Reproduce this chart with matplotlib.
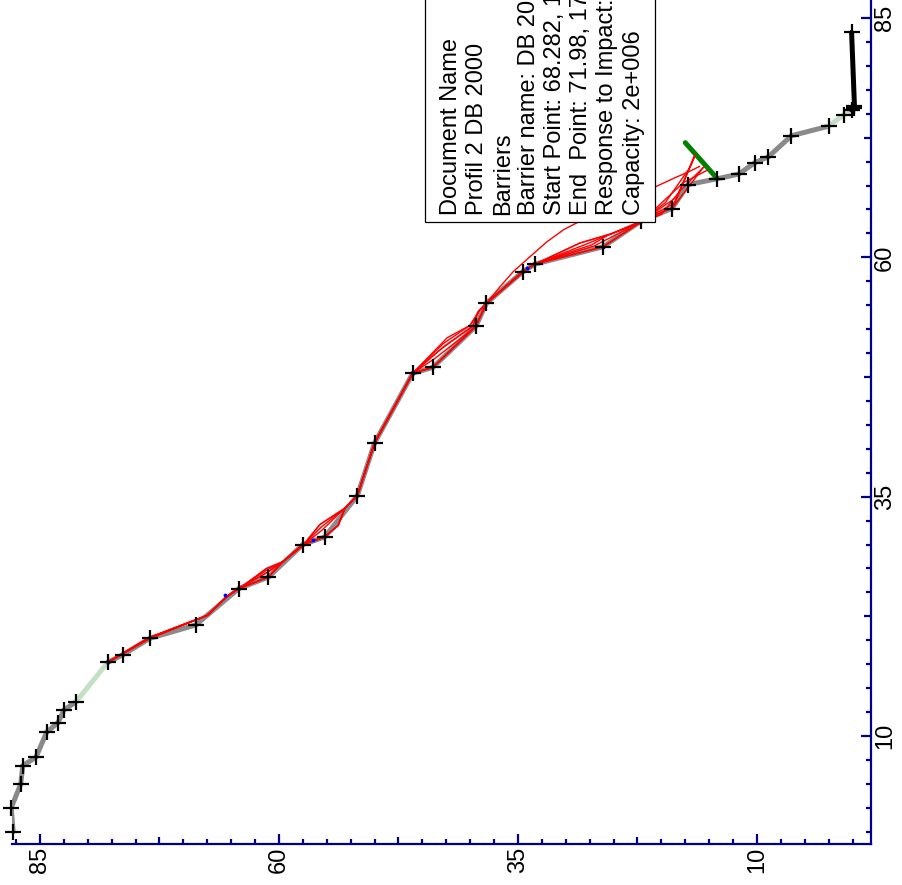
import matplotlib
matplotlib.use('Agg')
import matplotlib.pyplot as plt
from matplotlib.patches import Rectangle
from matplotlib.ticker import MultipleLocator

plt.rcParams['font.family'] = ['Liberation Sans', 'DejaVu Sans']

# Hangprofil: horizontale Distanz (m) und Hoehe (m) der Knoten
profil_dist = [0.0, 2.5, 5.0, 6.9, 7.8, 10.4, 11.4, 12.7, 13.6, 17.7, 18.5, 20.2, 21.6,
               25.4, 26.6, 30.0, 30.8, 35.1, 40.6, 47.9, 48.5, 52.8, 55.2, 58.5, 59.3,
               61.1, 63.8, 65.1, 67.6, 68.2, 68.7, 69.9, 70.5, 72.7, 73.7, 74.9, 75.4,
               75.6, 75.8, 83.5]
profil_elev = [87.8, 88.0, 87.0, 86.8, 85.4, 84.3, 83.1, 82.5, 81.2, 77.9, 76.3, 73.5, 68.7,
               64.2, 61.1, 57.5, 55.2, 51.8, 50.0, 46.0, 43.9, 39.4, 38.3, 34.5, 33.2,
               26.1, 22.1, 18.9, 17.2, 14.2, 11.9, 10.2, 8.8, 6.4, 2.5, 0.9, 0.1,
               -0.2, -0.2, 0.1]
# Material je Segment
materiale = ['fels'] * 8 + ['wiese'] + ['fels'] * 25 + ['wiese'] * 2 + ['strasse'] * 3
farben = {'fels': '#8a8a8a', 'wiese': '#c4e0c4', 'strasse': '#000000'}

# Barriere DB 2000
barrier_dist = [68.282, 71.98]
barrier_elev = [14.2, 17.5]

# Startpunkte (blaue Punkte)
start_dist = [17.7, 24.7, 30.5, 47.9, 58.9, 61.1]
start_elev = [77.9, 65.6, 56.4, 46.0, 34.0, 26.1]

# Sturzbahnen
traj1_d = [17.7, 20.3, 22.6, 24.6, 25.8, 27.5, 28.2, 29.9, 32.1, 33.8, 35.1, 40.6, 47.9,
           51.6, 52.9, 54.5, 55.2, 58.5, 59.3, 61.5, 62.5, 63.8, 66.3, 70.6]
traj1_e = [77.9, 73.5, 67.5, 65.4, 63.6, 61.3, 59.6, 57.5, 55.7, 53.1, 51.8, 50.0, 46.0,
           42.4, 40.0, 39.0, 38.3, 34.5, 33.2, 28.5, 25.1, 22.0, 18.4, 16.5]
traj2_d = [17.7, 20.2, 22.6, 24.6, 25.4, 26.6, 28.2, 30.0, 30.8, 32.0, 33.8, 35.1, 40.6,
           47.9, 48.5, 52.8, 55.2, 58.5, 59.3, 61.1, 63.8, 65.2, 67.8, 70.7]
traj2_e = [77.9, 73.5, 67.5, 65.4, 64.2, 61.1, 59.6, 57.5, 55.2, 53.8, 53.1, 51.8, 50.0,
           46.0, 43.9, 39.4, 38.3, 34.5, 33.2, 26.1, 22.0, 18.8, 17.7, 16.5]
traj3_d = [17.7, 20.3, 22.6, 24.6, 25.6, 27.1, 28.2, 29.9, 31.5, 33.8, 35.1, 40.6, 47.9,
           50.3, 52.8, 54.5, 55.2, 58.3, 59.3, 61.3, 62.3, 63.6, 65.7, 69.4, 70.6]
traj3_e = [77.9, 73.5, 67.5, 65.4, 63.9, 61.2, 59.6, 57.5, 55.5, 53.1, 51.8, 50.0, 46.0,
           43.2, 39.8, 39.0, 38.3, 34.6, 33.3, 27.3, 25.6, 22.3, 19.6, 17.0, 16.5]
traj4_d = [17.7, 20.3, 22.6, 24.6, 25.7, 27.3, 28.2, 29.9, 31.8, 33.8, 35.1, 40.6, 47.9,
           50.8, 52.8, 54.3, 55.2, 58.5, 59.3, 61.2, 63.0, 64.5, 67.0, 69.4]
traj4_e = [77.9, 73.5, 67.5, 65.4, 63.8, 61.3, 59.6, 57.5, 55.6, 53.1, 51.8, 50.0, 46.0,
           42.6, 39.7, 39.2, 38.3, 34.5, 33.2, 27.0, 23.5, 20.0, 18.0, 15.6]
traj5_d = [17.7, 20.2, 22.6, 24.6, 25.4, 26.6, 28.2, 30.0, 30.8, 32.0, 33.8, 35.1, 40.6,
           47.9, 49.5, 52.8, 55.2, 58.5, 59.3, 61.1, 63.8, 65.2, 69.4]
traj5_e = [77.9, 73.5, 67.5, 65.4, 64.2, 61.1, 59.6, 57.5, 55.2, 53.8, 53.1, 51.8, 50.0,
           46.0, 43.6, 39.4, 38.3, 34.5, 33.2, 26.1, 22.0, 18.8, 15.6]
traj6_d = [17.7, 20.3, 22.6, 24.6, 25.8, 27.5, 28.2, 29.9, 32.1, 33.8, 35.1, 40.6, 47.9,
           48.5, 52.8, 55.2, 58.5, 59.3, 61.4, 62.4, 63.8, 67.8, 69.1]
traj6_e = [77.9, 73.5, 67.5, 65.4, 63.6, 61.3, 59.6, 57.5, 55.7, 53.1, 51.8, 50.0, 46.0,
           43.9, 39.4, 38.3, 34.5, 33.2, 27.8, 25.4, 22.0, 17.7, 15.2]
traj7_d = [17.7, 20.3, 22.6, 24.6, 25.6, 27.1, 28.2, 30.0, 30.8, 32.0, 33.8, 35.1, 40.6,
           47.9, 51.0, 52.9, 54.5, 55.2, 58.5, 59.3, 61.5, 62.5, 63.8, 65.7, 70.6]
traj7_e = [77.9, 73.5, 67.5, 65.4, 63.9, 61.2, 59.6, 57.5, 55.2, 53.8, 53.1, 51.8, 50.0,
           46.0, 42.8, 40.0, 39.0, 38.3, 34.5, 33.2, 28.5, 25.1, 22.0, 18.6, 16.5]
# Ausreisser mit hohem Sprung
traj8_d = [17.7, 20.2, 22.6, 24.6, 25.4, 26.6, 28.2, 30.0, 30.8, 32.0, 33.8, 35.1, 40.6,
           47.9, 48.5, 52.8, 55.2, 56.9, 58.5, 60.1, 61.6, 62.9, 64.3, 65.8, 67.1, 68.3,
           69.0, 69.5]
traj8_e = [77.9, 73.5, 67.5, 65.4, 64.2, 61.1, 59.6, 57.5, 55.2, 53.8, 53.1, 51.8, 50.0,
           46.0, 43.9, 39.4, 38.3, 36.9, 35.5, 33.7, 32.0, 30.2, 27.5, 24.3, 21.2, 18.6,
           17.0, 16.0]

trajektorien = [(traj1_d, traj1_e), (traj2_d, traj2_e), (traj3_d, traj3_e), (traj4_d, traj4_e),
                (traj5_d, traj5_e), (traj6_d, traj6_e), (traj7_d, traj7_e), (traj8_d, traj8_e)]

# Achsenbeschriftung
ticks_major = [85, 72.5, 60, 47.5, 35, 22.5, 10]
tick_labels = ['85', '', '60', '', '35', '', '10']
ticks_mittel = [72.5, 47.5, 22.5]

info_zeilen = ['Document Name',
               'Profil 2 DB 2000',
               'Barriers',
               'Barrier name: DB 2000',
               'Start Point: 68.282, 14.25',
               'End  Point: 71.98, 17.55',
               'Response to Impact: Stop',
               'Capacity: 2e+006']

W, H = 903, 885
blau = '#000090'

fig = plt.figure(figsize=(W / 100, H / 100), dpi=100)
ax = fig.add_axes([12 / W, 41 / H, 859 / W, 844 / H])

# Profil (horizontal = Hoehe, vertikal = Distanz; Darstellung gedreht)
for i, mat in enumerate(materiale):
    ax.plot(profil_elev[i:i + 2], profil_dist[i:i + 2], color=farben[mat], lw=3.6,
            solid_capstyle='round', zorder=1)

ax.plot(barrier_elev, barrier_dist, color='#008000', lw=3.6, solid_capstyle='round', zorder=2)

for d, e in trajektorien:
    ax.plot(e, d, color='#ff0000', lw=1.0, zorder=3)

ax.plot(start_elev, start_dist, 'o', color='#0000ff', ms=1.8, zorder=3.5)
ax.plot(profil_elev, profil_dist, '+', color='black', ms=11, mew=1.6, zorder=4, clip_on=False)

ax.set_xlim(87.92, -1.93)
ax.set_ylim(-1.28, 86.88)

for s in ['top', 'left']:
    ax.spines[s].set_visible(False)
for s in ['bottom', 'right']:
    ax.spines[s].set_color(blau)
    ax.spines[s].set_linewidth(1.6)

ax.yaxis.tick_right()
ax.set_xticks(ticks_major, labels=tick_labels)
ax.set_yticks(ticks_major, labels=tick_labels)
ax.xaxis.set_minor_locator(MultipleLocator(2.5))
ax.yaxis.set_minor_locator(MultipleLocator(2.5))
ax.tick_params(which='major', direction='in', length=7.5, width=1.6, color=blau,
               labelsize=17, labelrotation=90, pad=2)
ax.tick_params(which='minor', direction='in', length=3.5, width=1.6, color=blau)
ax.tick_params(axis='y', which='both', left=False, right=True, labelleft=False, labelright=True)

for t, v in zip(ax.xaxis.get_major_ticks(), ticks_major):
    if v in ticks_mittel:
        t.tick1line.set_markersize(5)
for t, v in zip(ax.yaxis.get_major_ticks(), ticks_major):
    if v in ticks_mittel:
        t.tick2line.set_markersize(5)
plt.setp(ax.get_yticklabels(), va='center')

# Infobox (oben abgeschnitten wie im Original)
fig.patches.append(Rectangle((425 / W, 1 - 222 / H), 230 / W, 0.3, transform=fig.transFigure,
                             facecolor='white', edgecolor='black', lw=0.9, zorder=5))
fig.text(440 / W, 1 - 215 / H, '\n'.join(info_zeilen), rotation=90, rotation_mode='anchor',
         ha='left', va='top', fontsize=17, linespacing=1.24, zorder=6)

fig.savefig('out.png', dpi=100)
